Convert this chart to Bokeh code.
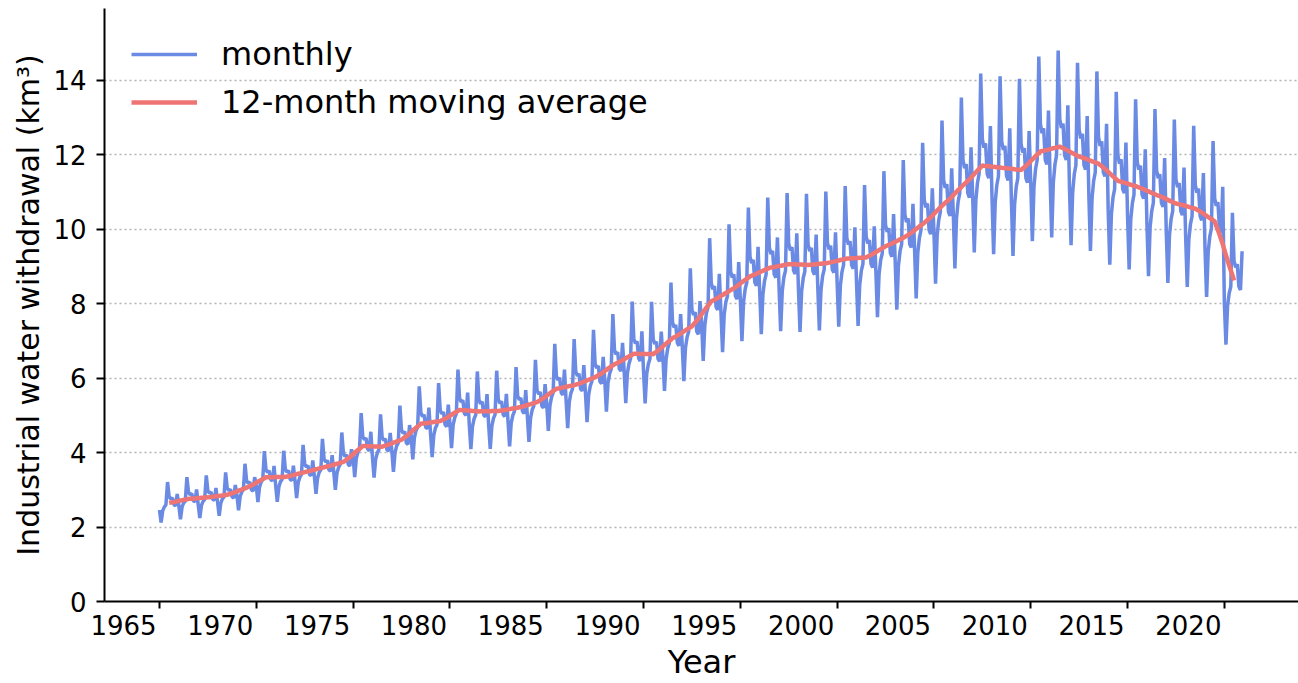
import pandas as pd
from bokeh.plotting import figure
from bokeh.models import (FixedTicker, Legend, LegendItem, LinearAxis,
                          ColumnDataSource, Range1d)
from bokeh.embed import file_html
from bokeh.resources import INLINE

# ---------------- data ----------------
start_year = 1965
# monthly industrial water withdrawal, km3, one row per year (Jan..Dec)
monthly_1965_1974 = [
    [2.46, 2.12, 2.44, 2.54, 2.60, 3.21, 2.81, 2.76, 2.78, 2.60, 2.57, 2.89],
    [2.57, 2.21, 2.54, 2.65, 2.70, 3.34, 2.93, 2.87, 2.90, 2.70, 2.68, 3.01],
    [2.60, 2.24, 2.58, 2.69, 2.74, 3.39, 2.97, 2.91, 2.94, 2.74, 2.72, 3.05],
    [2.67, 2.30, 2.64, 2.76, 2.81, 3.47, 3.04, 2.98, 3.01, 2.81, 2.78, 3.13],
    [2.85, 2.45, 2.82, 2.94, 3.00, 3.70, 3.24, 3.18, 3.21, 3.00, 2.97, 3.34],
    [3.11, 2.67, 3.07, 3.21, 3.27, 4.04, 3.54, 3.47, 3.51, 3.27, 3.24, 3.64],
    [3.12, 2.68, 3.08, 3.22, 3.28, 4.05, 3.55, 3.48, 3.52, 3.28, 3.25, 3.65],
    [3.24, 2.78, 3.20, 3.34, 3.41, 4.21, 3.69, 3.62, 3.65, 3.41, 3.38, 3.79],
    [3.36, 2.89, 3.32, 3.47, 3.54, 4.37, 3.83, 3.75, 3.79, 3.54, 3.50, 3.93],
    [3.49, 3.00, 3.45, 3.60, 3.68, 4.54, 3.98, 3.90, 3.94, 3.68, 3.64, 4.09],
]
monthly_1975_1984 = [
    [3.89, 3.34, 3.85, 4.01, 4.10, 5.06, 4.43, 4.35, 4.39, 4.10, 4.05, 4.56],
    [3.87, 3.33, 3.83, 3.99, 4.08, 5.03, 4.41, 4.33, 4.37, 4.08, 4.04, 4.53],
    [4.05, 3.48, 4.00, 4.18, 4.26, 5.26, 4.61, 4.52, 4.57, 4.26, 4.22, 4.74],
    [4.45, 3.82, 4.40, 4.59, 4.68, 5.78, 5.07, 4.97, 5.02, 4.68, 4.64, 5.21],
    [4.51, 3.88, 4.46, 4.66, 4.75, 5.87, 5.14, 5.04, 5.09, 4.75, 4.70, 5.29],
    [4.79, 4.12, 4.74, 4.94, 5.05, 6.23, 5.46, 5.36, 5.41, 5.05, 5.00, 5.61],
    [4.75, 4.09, 4.70, 4.91, 5.01, 6.18, 5.42, 5.31, 5.37, 5.01, 4.96, 5.57],
    [4.76, 4.10, 4.71, 4.92, 5.02, 6.20, 5.43, 5.32, 5.38, 5.02, 4.97, 5.58],
    [4.85, 4.17, 4.79, 5.00, 5.11, 6.30, 5.52, 5.42, 5.47, 5.11, 5.05, 5.68],
    [4.98, 4.29, 4.93, 5.15, 5.25, 6.49, 5.68, 5.57, 5.63, 5.25, 5.20, 5.84],
]
monthly_1985_1994 = [
    [5.32, 4.58, 5.26, 5.49, 5.61, 6.92, 6.06, 5.95, 6.01, 5.61, 5.55, 6.23],
    [5.42, 4.66, 5.36, 5.60, 5.71, 7.05, 6.18, 6.06, 6.12, 5.71, 5.66, 6.35],
    [5.61, 4.82, 5.55, 5.79, 5.91, 7.30, 6.39, 6.27, 6.33, 5.91, 5.85, 6.57],
    [5.93, 5.10, 5.87, 6.12, 6.25, 7.72, 6.76, 6.64, 6.70, 6.25, 6.19, 6.95],
    [6.19, 5.33, 6.13, 6.39, 6.53, 8.06, 7.06, 6.93, 6.99, 6.53, 6.46, 7.26],
    [6.18, 5.32, 6.12, 6.38, 6.52, 8.05, 7.05, 6.92, 6.98, 6.52, 6.45, 7.25],
    [6.58, 5.66, 6.51, 6.80, 6.94, 8.57, 7.50, 7.36, 7.43, 6.94, 6.87, 7.72],
    [6.88, 5.92, 6.81, 7.10, 7.25, 8.95, 7.84, 7.70, 7.77, 7.25, 7.18, 8.07],
    [7.51, 6.46, 7.42, 7.75, 7.91, 9.76, 8.55, 8.39, 8.47, 7.91, 7.83, 8.80],
    [7.78, 6.70, 7.70, 8.04, 8.20, 10.13, 8.87, 8.70, 8.79, 8.20, 8.12, 9.12],
]
monthly_1995_2004 = [
    [8.13, 6.99, 8.04, 8.39, 8.57, 10.58, 9.26, 9.09, 9.18, 8.57, 8.48, 9.53],
    [8.34, 7.18, 8.25, 8.61, 8.79, 10.85, 9.51, 9.33, 9.42, 8.79, 8.70, 9.78],
    [8.44, 7.26, 8.34, 8.71, 8.89, 10.97, 9.61, 9.43, 9.52, 8.89, 8.80, 9.89],
    [8.42, 7.24, 8.33, 8.69, 8.87, 10.95, 9.59, 9.41, 9.50, 8.87, 8.78, 9.86],
    [8.46, 7.28, 8.37, 8.74, 8.92, 11.01, 9.65, 9.46, 9.56, 8.92, 8.83, 9.92],
    [8.57, 7.38, 8.48, 8.85, 9.04, 11.16, 9.77, 9.59, 9.68, 9.04, 8.94, 10.05],
    [8.60, 7.40, 8.51, 8.88, 9.07, 11.19, 9.81, 9.62, 9.71, 9.07, 8.97, 10.08],
    [8.88, 7.64, 8.79, 9.17, 9.36, 11.56, 10.12, 9.93, 10.03, 9.36, 9.26, 10.41],
    [9.11, 7.84, 9.02, 9.41, 9.60, 11.86, 10.39, 10.19, 10.29, 9.60, 9.51, 10.68],
    [9.47, 8.14, 9.37, 9.77, 9.98, 12.32, 10.79, 10.59, 10.69, 9.98, 9.87, 11.10],
]
monthly_2005_2014 = [
    [9.93, 8.54, 9.83, 10.25, 10.47, 12.92, 11.32, 11.11, 11.21, 10.47, 10.36, 11.64],
    [10.41, 8.95, 10.29, 10.74, 10.97, 13.54, 11.86, 11.64, 11.75, 10.97, 10.85, 12.20],
    [10.90, 9.38, 10.78, 11.25, 11.49, 14.18, 12.42, 12.19, 12.31, 11.49, 11.37, 12.77],
    [10.84, 9.33, 10.73, 11.19, 11.43, 14.11, 12.36, 12.13, 12.24, 11.43, 11.31, 12.71],
    [10.79, 9.28, 10.67, 11.14, 11.37, 14.04, 12.30, 12.06, 12.18, 11.37, 11.25, 12.64],
    [11.25, 9.68, 11.13, 11.62, 11.86, 14.64, 12.83, 12.58, 12.71, 11.86, 11.74, 13.19],
    [11.37, 9.78, 11.25, 11.74, 11.99, 14.80, 12.96, 12.72, 12.84, 11.99, 11.86, 13.33],
    [11.12, 9.57, 11.00, 11.48, 11.72, 14.47, 12.68, 12.44, 12.56, 11.72, 11.60, 13.04],
    [10.95, 9.42, 10.83, 11.30, 11.53, 14.24, 12.48, 12.24, 12.36, 11.53, 11.42, 12.83],
    [10.52, 9.05, 10.41, 10.86, 11.08, 13.69, 11.99, 11.76, 11.88, 11.08, 10.97, 12.33],
]
monthly_2015_2020 = [
    [10.37, 8.92, 10.26, 10.70, 10.93, 13.49, 11.82, 11.60, 11.71, 10.93, 10.82, 12.15],
    [10.16, 8.74, 10.06, 10.49, 10.71, 13.23, 11.59, 11.37, 11.48, 10.71, 10.60, 11.91],
    [9.95, 8.56, 9.84, 10.27, 10.49, 12.95, 11.34, 11.13, 11.24, 10.49, 10.38, 11.66],
    [9.82, 8.45, 9.72, 10.14, 10.35, 12.78, 11.19, 10.98, 11.09, 10.35, 10.24, 11.51],
    [9.50, 8.18, 9.40, 9.81, 10.02, 12.37, 10.83, 10.63, 10.73, 10.02, 9.91, 11.14],
    [8.03, 6.90, 7.94, 8.28, 8.46, 10.44, 9.15, 8.98, 9.06, 8.46, 8.37, 9.41],
]

x_ticks = [1965, 1970, 1975, 1980, 1985, 1990, 1995, 2000, 2005, 2010, 2015, 2020]
x_tick_labels = ["1965", "1970", "1975", "1980", "1985", "1990",
                 "1995", "2000", "2005", "2010", "2015", "2020"]
y_ticks = [0, 2, 4, 6, 8, 10, 12, 14]

# ---------------- build series ----------------
rows = (monthly_1965_1974 + monthly_1975_1984 + monthly_1985_1994 +
        monthly_1995_2004 + monthly_2005_2014 + monthly_2015_2020)
values = [v for row in rows for v in row]
t = [start_year + i / 12.0 for i in range(len(values))]
ma = pd.Series(values).rolling(12, center=True).mean()

src_m = ColumnDataSource(dict(t=t, v=values))
ma_t = [tt for tt, m in zip(t, ma) if pd.notna(m)]
ma_v = [m for m in ma if pd.notna(m)]
src_a = ColumnDataSource(dict(t=ma_t, v=ma_v))

FONT = "DejaVu Sans"
X0, X1 = 1962.16, 2023.83

p = figure(width=1298, height=683, output_backend="svg", toolbar_location=None,
           x_range=Range1d(X0, X1), y_range=Range1d(0, 15.93),
           min_border_left=104, min_border_right=0, min_border_top=8,
           min_border_bottom=82)
p.outline_line_color = None
p.background_fill_color = "white"
p.border_fill_color = "white"

r1 = p.line("t", "v", source=src_m, line_color="#6a8ae3", line_width=3.5)
r2 = p.line("t", "v", source=src_a, line_color="#ef7474", line_width=4.5)

# grid
p.xgrid.visible = False
p.ygrid.grid_line_color = "#b3b3b3"
p.ygrid.grid_line_dash = "2 3"
p.ygrid.grid_line_width = 1.5
p.ygrid.ticker = FixedTicker(ticks=y_ticks)

# y axis
ya = p.yaxis[0]
ya.ticker = FixedTicker(ticks=y_ticks)
ya.axis_line_width = 2
ya.major_tick_line_width = 2
ya.major_tick_out = 8
ya.major_tick_in = 0
ya.minor_tick_line_color = None
ya.major_label_standoff = 10
ya.major_label_text_font = FONT
ya.major_label_text_font_size = "26px"
ya.major_label_text_color = "black"
ya.axis_label = "Industrial water withdrawal (km³)"
ya.axis_label_text_font = FONT
ya.axis_label_text_font_style = "normal"
ya.axis_label_text_font_size = "30px"
ya.axis_label_standoff = 4
ya.axis_label_text_color = "black"

# x axis: line + tick marks at the years
xa = p.xaxis[0]
xa.ticker = FixedTicker(ticks=x_ticks)
xa.axis_line_width = 2
xa.major_tick_line_width = 2
xa.major_tick_out = 7
xa.major_tick_in = 0
xa.minor_tick_line_color = None
xa.major_label_overrides = {tk: "" for tk in x_ticks}
xa.major_label_text_font_size = "1px"
xa.major_label_standoff = 0

# second x axis carrying the year labels, right-aligned to their tick
shift = 1.86  # label centre sits this many years left of its tick
lab_pos = [round(tk - shift, 2) for tk in x_ticks]
xa2 = LinearAxis(ticker=FixedTicker(ticks=lab_pos),
                 major_label_overrides={pos: lab for pos, lab in zip(lab_pos, x_tick_labels)},
                 axis_line_color=None, major_tick_line_color=None,
                 minor_tick_line_color=None, major_tick_out=0, major_tick_in=0,
                 major_label_standoff=6, major_label_text_font=FONT,
                 major_label_text_font_size="26px", major_label_text_color="black",
                 axis_label="Year", axis_label_text_font=FONT,
                 axis_label_text_font_style="normal",
                 axis_label_text_font_size="32px", axis_label_standoff=5,
                 axis_label_text_color="black")
p.add_layout(xa2, "below")

legend = Legend(items=[LegendItem(label="monthly", renderers=[r1]),
                       LegendItem(label="12-month moving average", renderers=[r2])],
                location="top_left", border_line_color=None,
                background_fill_alpha=0, margin=27, padding=0,
                glyph_width=66, glyph_height=36, label_standoff=24,
                spacing=10, label_text_font=FONT, label_text_font_size="32px",
                label_text_color="black")
p.add_layout(legend)

open("out.html", "w").write(file_html(p, INLINE))
